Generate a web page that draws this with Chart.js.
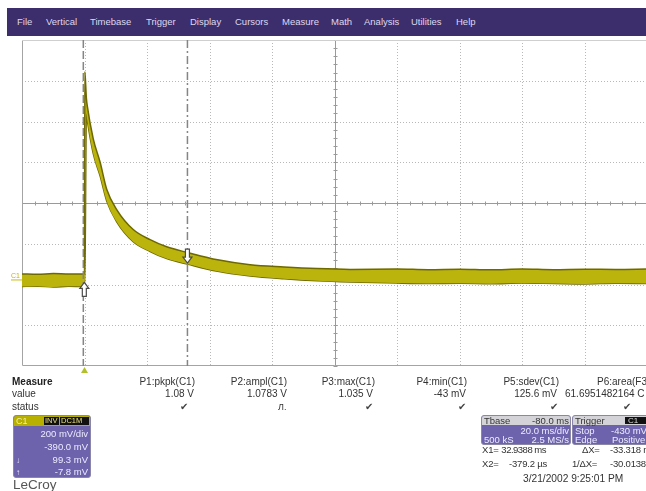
<!DOCTYPE html>
<html>
<head>
<meta charset="utf-8">
<script src="https://cdn.jsdelivr.net/npm/chart.js@4.4.1/dist/chart.umd.min.js"></script>
<style>
  html, body { margin:0; padding:0; width:646px; height:491px; overflow:hidden; background:#fff;
    font-family:"Liberation Sans", Arial, sans-serif; }
  #cv { position:absolute; left:0; top:0; }
  .t { position:absolute; white-space:nowrap; font-size:10px; line-height:12px; color:#333; }
  .s { font-size:9.5px; line-height:11px; letter-spacing:-0.2px; }
  .r { text-align:right; }
  #menu { position:absolute; left:7px; top:8px; width:650px; height:28px; background:#3c2e6c; }
  .m { position:absolute; top:8px; font-size:9.5px; line-height:12px; color:#dcd8ee; white-space:nowrap; }
  .box { position:absolute; background:#6d63ad; border:1px solid #8a86a8; border-radius:3px; overflow:hidden; }
  .bt { position:absolute; white-space:nowrap; font-size:9.5px; line-height:11px; color:#ecebff; }
  .bs { position:absolute; white-space:nowrap; font-size:9.5px; line-height:9px; color:#ecebff; }
  .chk { position:absolute; font-size:10px; line-height:12px; color:#444; font-family:"DejaVu Sans", sans-serif; }
</style>
</head>
<body>
<canvas id="cv" width="647" height="491"></canvas>

<div id="menu">
  <span class="m" style="left:10px">File</span>
  <span class="m" style="left:39px">Vertical</span>
  <span class="m" style="left:83px">Timebase</span>
  <span class="m" style="left:139px">Trigger</span>
  <span class="m" style="left:183px">Display</span>
  <span class="m" style="left:228px">Cursors</span>
  <span class="m" style="left:275px">Measure</span>
  <span class="m" style="left:324px">Math</span>
  <span class="m" style="left:357px">Analysis</span>
  <span class="m" style="left:404px">Utilities</span>
  <span class="m" style="left:449px">Help</span>
</div>

<!-- measurement table -->
<div class="t" style="left:12px;top:376px;font-weight:bold;color:#222">Measure</div>
<div class="t" style="left:12px;top:388px">value</div>
<div class="t" style="left:12px;top:401px">status</div>

<div class="t r" style="right:451px;top:376px">P1:pkpk(C1)</div>
<div class="t r" style="right:452px;top:388px">1.08 V</div>
<div class="chk" style="left:180px;top:401px">✔</div>

<div class="t r" style="right:359px;top:376px">P2:ampl(C1)</div>
<div class="t r" style="right:359px;top:388px">1.0783 V</div>
<div class="t" style="left:278px;top:401px;font-size:9px">Л.</div>

<div class="t r" style="right:271px;top:376px">P3:max(C1)</div>
<div class="t r" style="right:273px;top:388px">1.035 V</div>
<div class="chk" style="left:365px;top:401px">✔</div>

<div class="t r" style="right:179px;top:376px">P4:min(C1)</div>
<div class="t r" style="right:180px;top:388px">-43 mV</div>
<div class="chk" style="left:458px;top:401px">✔</div>

<div class="t r" style="right:87px;top:376px">P5:sdev(C1)</div>
<div class="t r" style="right:89px;top:388px">125.6 mV</div>
<div class="chk" style="left:550px;top:401px">✔</div>

<div class="t" style="left:597px;top:376px">P6:area(F3)</div>
<div class="t" style="left:565px;top:388px">61.6951482164 C</div>
<div class="chk" style="left:623px;top:401px">✔</div>

<!-- C1 box -->
<div class="box" style="left:13px;top:415px;width:76px;height:61px">
  <div style="position:absolute;left:0;top:0;width:76px;height:10px;background:#b7b000"></div>
  <div class="bt" style="left:2px;top:0px;color:#f4f0a0;font-size:9px">C1</div>
  <div style="position:absolute;left:30px;top:1px;width:15px;height:8px;background:#111"></div>
  <div class="bt" style="left:31px;top:0px;font-size:7.5px;line-height:10px;color:#e8e080">INV</div>
  <div style="position:absolute;left:46px;top:1px;width:29px;height:8px;background:#111"></div>
  <div class="bt" style="left:47px;top:0px;font-size:7.5px;line-height:10px;color:#e8e080">DC1M</div>
  <div class="bt r" style="right:2px;top:12px">200 mV/div</div>
  <div class="bt r" style="right:2px;top:25px">-390.0 mV</div>
  <div class="bt" style="left:2px;top:39px;font-size:8px">↓</div>
  <div class="bt r" style="right:2px;top:38px">99.3 mV</div>
  <div class="bt" style="left:2px;top:51px;font-size:8px">↑</div>
  <div class="bt r" style="right:2px;top:50px">-7.8 mV</div>
</div>
<div class="t" style="left:13px;top:477px;font-size:13.5px;line-height:15px;color:#555">LeCroy</div>

<!-- Tbase box -->
<div class="box" style="left:481px;top:415px;width:88px;height:28px">
  <div style="position:absolute;left:0;top:0;width:88px;height:9px;background:#d4d4d8"></div>
  <div class="bs" style="left:2px;top:0px;color:#333">Tbase</div>
  <div class="bs r" style="right:1px;top:0px;color:#333">-80.0 ms</div>
  <div class="bs r" style="right:1px;top:10px">20.0 ms/div</div>
  <div class="bs" style="left:2px;top:19px">500 kS</div>
  <div class="bs r" style="right:1px;top:19px">2.5 MS/s</div>
</div>
<!-- Trigger box -->
<div class="box" style="left:572px;top:415px;width:90px;height:28px">
  <div style="position:absolute;left:0;top:0;width:90px;height:9px;background:#d4d4d8"></div>
  <div class="bs" style="left:2px;top:0px;color:#333">Trigger</div>
  <div style="position:absolute;left:52px;top:1px;width:24px;height:7px;background:#111"></div>
  <div class="bs" style="left:55px;top:0px;font-size:8px;color:#ddd">C1</div>
  <div class="bs" style="left:2px;top:10px">Stop</div>
  <div class="bs" style="left:38px;top:10px">-430 mV</div>
  <div class="bs" style="left:2px;top:19px">Edge</div>
  <div class="bs" style="left:39px;top:19px">Positive</div>
</div>

<div class="t s" style="left:482px;top:444px">X1=</div>
<div class="t s r" style="right:100px;top:444px;letter-spacing:-0.5px">32.9388 ms</div>
<div class="t s" style="left:582px;top:444px">ΔX=</div>
<div class="t s" style="left:610px;top:444px">-33.318 ms</div>
<div class="t s" style="left:482px;top:458px">X2=</div>
<div class="t s r" style="right:99px;top:458px">-379.2 µs</div>
<div class="t s" style="left:572px;top:458px">1/ΔX=</div>
<div class="t s" style="left:610px;top:458px">-30.0138 Hz</div>
<div class="t" style="left:523px;top:473px;font-size:10.2px">3/21/2002 9:25:01 PM</div>

<script>
// ---- data (time in ms, voltage in mV) ----
const timeMs = [-20, -15, -10, -5, -0.4, 0, 0.1, 0.6, 0.9, 2.8, 5.0, 7.1, 10.3, 15.6, 21, 26.3, 33.2, 42.6, 53, 63.8, 74.4, 85, 100, 110, 120, 130, 140, 150, 160, 170, 180];
const traceUpper = [42, 40, 44, 41, 42, 42, 1035, 905, 865, 705, 590, 458, 358, 260, 210, 175, 146, 111, 87, 76, 68, 64, 66, 63, 65, 62, 66, 63, 65, 64, 66];
const traceLower = [-20, -18, -22, -19, -20, -20, -20, 830, 795, 632, 522, 400, 298, 200, 152, 117, 89, 55, 32, 18, 8, 2, -3, -5, -4, -6, -3, -5, -7, -4, -5];

// scope grid (divisions), 20 ms/div and 200 mV/div, -390 mV offset
const xGridMs = [-20, 0, 20, 40, 60, 80, 100, 120, 140, 160, 180];
const yGridMv = [-410, -210, -10, 190, 390, 590, 790, 990, 1190];
const centerMs = 80, centerMv = 390;

// cursors
const cursorX1 = 32.9388, cursorX2 = -0.3792;
const cursorX1Level = 95, cursorX2Level = 0;
const triggerTime = 0, groundLevel = 0;

const toPts = (ys) => timeMs.map((t, i) => ({x: t, y: ys[i]}));

function arrow(ctx, cx, tipY, dir) {
  const hw = 4.5, sw = 2, hh = 6, len = 14;
  ctx.beginPath();
  ctx.moveTo(cx, tipY);
  ctx.lineTo(cx + hw, tipY - dir * hh);
  ctx.lineTo(cx + sw, tipY - dir * hh);
  ctx.lineTo(cx + sw, tipY - dir * len);
  ctx.lineTo(cx - sw, tipY - dir * len);
  ctx.lineTo(cx - sw, tipY - dir * hh);
  ctx.lineTo(cx - hw, tipY - dir * hh);
  ctx.closePath();
  ctx.fillStyle = '#ffffff'; ctx.fill();
  ctx.strokeStyle = '#4a4a4a'; ctx.lineWidth = 1.2; ctx.setLineDash([]); ctx.stroke();
}

const scopePlugin = {
  id: 'scope',
  beforeDatasetsDraw(chart) {
    const {ctx, chartArea: a, scales: {x, y}} = chart;
    ctx.save();
    ctx.strokeStyle = '#b8b8b8'; ctx.lineWidth = 1; ctx.setLineDash([1, 2]);
    xGridMs.forEach(t => {
      if (t === centerMs || t === xGridMs[0]) return;
      const px = Math.round(x.getPixelForValue(t)) + 0.5;
      ctx.beginPath(); ctx.moveTo(px, a.top); ctx.lineTo(px, a.bottom); ctx.stroke();
    });
    yGridMv.forEach(v => {
      if (v === centerMv || v === yGridMv[0] || v === yGridMv[yGridMv.length - 1]) return;
      const py = Math.round(y.getPixelForValue(v)) + 0.5;
      ctx.beginPath(); ctx.moveTo(a.left, py); ctx.lineTo(a.right, py); ctx.stroke();
    });
    ctx.setLineDash([]);
    ctx.strokeStyle = '#9a9a9a';
    const cx = Math.round(x.getPixelForValue(centerMs)) + 0.5;
    const cy = Math.round(y.getPixelForValue(centerMv)) + 0.5;
    ctx.beginPath(); ctx.moveTo(a.left, cy); ctx.lineTo(a.right, cy); ctx.stroke();
    ctx.beginPath(); ctx.moveTo(cx, a.top); ctx.lineTo(cx, a.bottom); ctx.stroke();
    for (let t = xGridMs[0]; t <= xGridMs[xGridMs.length - 1]; t += 4) {
      const px = Math.round(x.getPixelForValue(t)) + 0.5;
      ctx.beginPath(); ctx.moveTo(px, cy - 2); ctx.lineTo(px, cy + 2); ctx.stroke();
    }
    for (let v = yGridMv[0]; v <= yGridMv[yGridMv.length - 1]; v += 40) {
      const py = Math.round(y.getPixelForValue(v)) + 0.5;
      ctx.beginPath(); ctx.moveTo(cx - 2, py); ctx.lineTo(cx + 2, py); ctx.stroke();
    }
    ctx.strokeStyle = '#a4a4a4';
    const l = Math.round(a.left) + 0.5, b = Math.round(a.bottom) - 0.5, tp = Math.round(a.top) + 0.5;
    ctx.beginPath(); ctx.moveTo(l, tp); ctx.lineTo(l, b); ctx.lineTo(a.right, b); ctx.stroke();
    ctx.strokeStyle = '#cfcfcf';
    ctx.beginPath(); ctx.moveTo(l, tp); ctx.lineTo(a.right, tp); ctx.stroke();
    ctx.restore();
  },
  afterDatasetsDraw(chart) {
    const {ctx, chartArea: a, scales: {x, y}} = chart;
    ctx.save();
    ctx.strokeStyle = '#858585'; ctx.lineWidth = 1.5;
    const x2p = x.getPixelForValue(cursorX2);
    ctx.setLineDash([8, 3]);
    ctx.beginPath(); ctx.moveTo(x2p, a.top); ctx.lineTo(x2p, a.bottom); ctx.stroke();
    const x1p = x.getPixelForValue(cursorX1);
    ctx.setLineDash([8, 3, 2, 3]);
    ctx.beginPath(); ctx.moveTo(x1p, a.top); ctx.lineTo(x1p, a.bottom); ctx.stroke();
    arrow(ctx, x2p + 1, y.getPixelForValue(cursorX2Level), -1);
    arrow(ctx, x1p, y.getPixelForValue(cursorX1Level), 1);
    const tx = x.getPixelForValue(triggerTime);
    ctx.setLineDash([]);
    ctx.fillStyle = '#b2c12a';
    ctx.beginPath(); ctx.moveTo(tx, a.bottom + 1); ctx.lineTo(tx + 3.5, a.bottom + 7); ctx.lineTo(tx - 3.5, a.bottom + 7); ctx.closePath(); ctx.fill();
    const gy = y.getPixelForValue(groundLevel);
    ctx.strokeStyle = '#c8bb10'; ctx.lineWidth = 1;
    ctx.beginPath(); ctx.moveTo(11, gy - 2.5); ctx.lineTo(a.left, gy - 2.5); ctx.stroke();
    ctx.fillStyle = '#c4b400'; ctx.font = '7px "Liberation Sans", Arial';
    ctx.textBaseline = 'bottom';
    ctx.fillText('C1', 11, gy - 3);
    ctx.restore();
  }
};

new Chart(document.getElementById('cv'), {
  type: 'line',
  data: {
    datasets: [
      { label: 'upper', data: toPts(traceUpper), borderColor: '#6e6800', borderWidth: 1.5,
        backgroundColor: '#bbb40c', fill: '+1', pointRadius: 0, cubicInterpolationMode: 'monotone' },
      { label: 'lower', data: toPts(traceLower), borderColor: '#6e6800', borderWidth: 1.5,
        fill: false, pointRadius: 0, cubicInterpolationMode: 'monotone' }
    ]
  },
  options: {
    responsive: false, animation: false, devicePixelRatio: 1,
    layout: { padding: { left: 22, top: 40, right: 0, bottom: 125 } },
    plugins: { legend: { display: false }, tooltip: { enabled: false } },
    scales: {
      x: { type: 'linear', min: xGridMs[0], max: xGridMs[xGridMs.length - 1], display: false },
      y: { type: 'linear', min: yGridMv[0], max: yGridMv[yGridMv.length - 1], display: false }
    }
  },
  plugins: [scopePlugin]
});
</script>
</body>
</html>
